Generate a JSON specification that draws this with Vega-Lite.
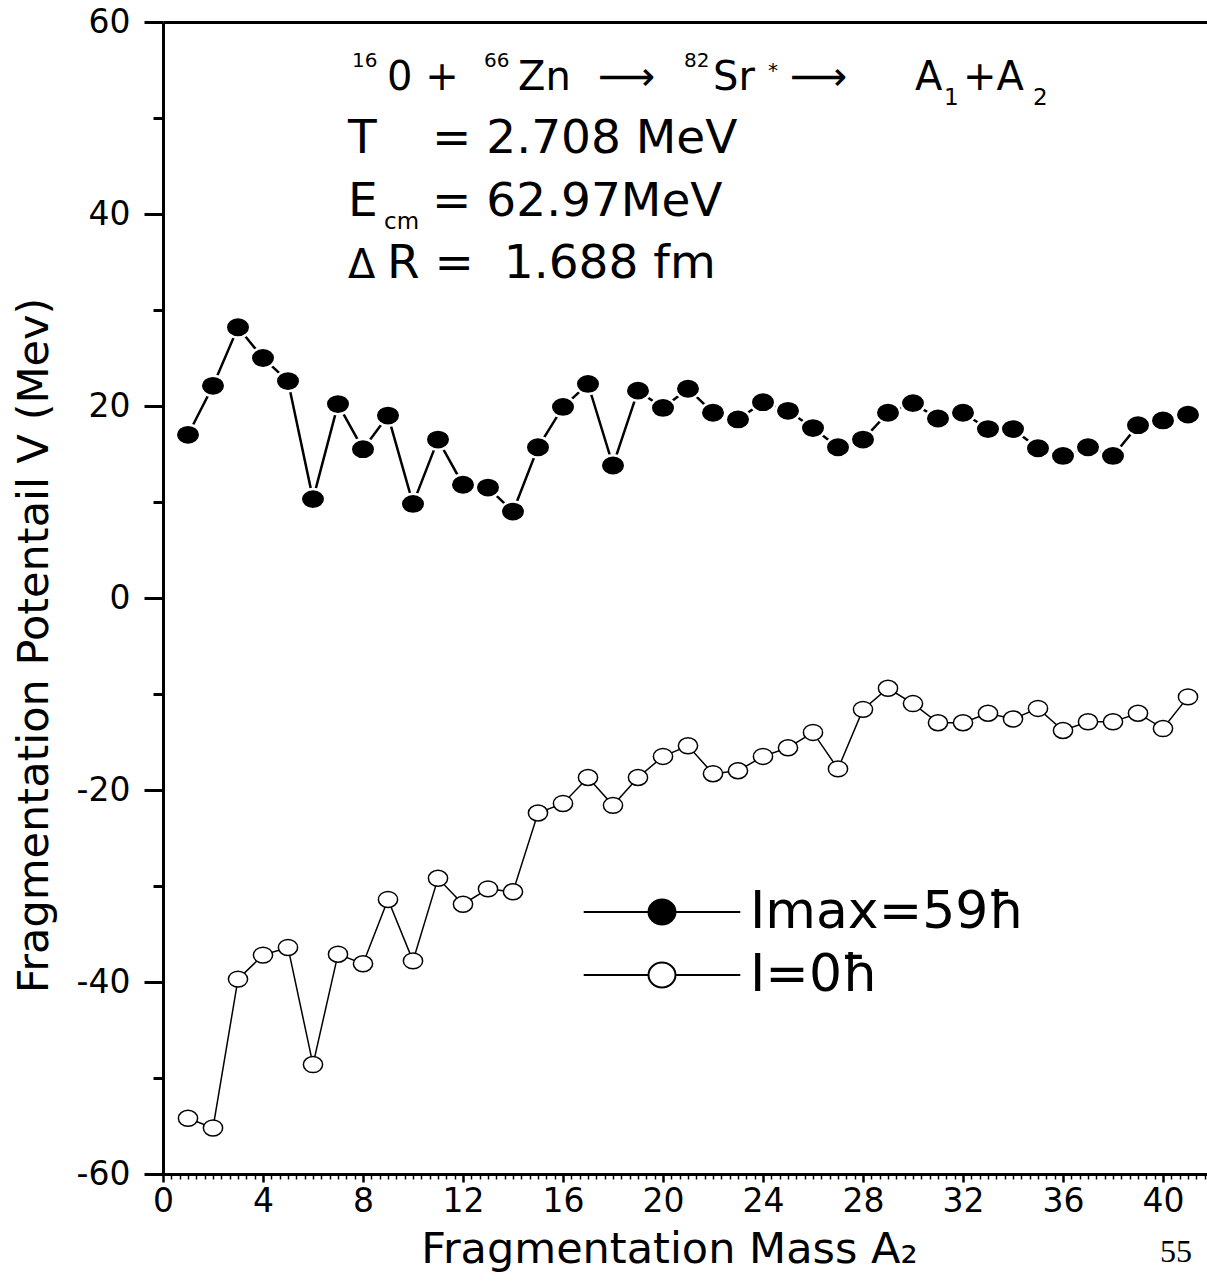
{
  "$schema": "https://vega.github.io/schema/vega-lite/v6.json",
  "width": 1044,
  "height": 1152,
  "autosize": {"type": "none"},
  "padding": {"left": 163, "top": 22, "right": 0, "bottom": 113},
  "background": "white",
  "config": {
    "view": {"stroke": null},
    "axis": {
      "domainColor": "black", "domainWidth": 3, "tickColor": "black",
      "labelColor": "black", "labelFont": "DejaVu Sans", "labelFontSize": 33,
      "titleColor": "black", "titleFont": "DejaVu Sans", "titleFontSize": 43, "titleFontWeight": "normal",
      "grid": false, "labelOverlap": false, "labelFlush": false, "labelBound": false
    }
  },
  "datasets": {
    "series": [
      {"A2": 1, "V": 17.0, "s": "Imax=59ħ"}, {"A2": 2, "V": 22.1, "s": "Imax=59ħ"}, {"A2": 3, "V": 28.2, "s": "Imax=59ħ"},
      {"A2": 4, "V": 25.0, "s": "Imax=59ħ"}, {"A2": 5, "V": 22.6, "s": "Imax=59ħ"}, {"A2": 6, "V": 10.3, "s": "Imax=59ħ"},
      {"A2": 7, "V": 20.2, "s": "Imax=59ħ"}, {"A2": 8, "V": 15.5, "s": "Imax=59ħ"}, {"A2": 9, "V": 19.0, "s": "Imax=59ħ"},
      {"A2": 10, "V": 9.8, "s": "Imax=59ħ"}, {"A2": 11, "V": 16.5, "s": "Imax=59ħ"}, {"A2": 12, "V": 11.8, "s": "Imax=59ħ"},
      {"A2": 13, "V": 11.5, "s": "Imax=59ħ"}, {"A2": 14, "V": 9.0, "s": "Imax=59ħ"}, {"A2": 15, "V": 15.7, "s": "Imax=59ħ"},
      {"A2": 16, "V": 19.9, "s": "Imax=59ħ"}, {"A2": 17, "V": 22.3, "s": "Imax=59ħ"}, {"A2": 18, "V": 13.8, "s": "Imax=59ħ"},
      {"A2": 19, "V": 21.6, "s": "Imax=59ħ"}, {"A2": 20, "V": 19.8, "s": "Imax=59ħ"}, {"A2": 21, "V": 21.8, "s": "Imax=59ħ"},
      {"A2": 22, "V": 19.3, "s": "Imax=59ħ"}, {"A2": 23, "V": 18.6, "s": "Imax=59ħ"}, {"A2": 24, "V": 20.4, "s": "Imax=59ħ"},
      {"A2": 25, "V": 19.5, "s": "Imax=59ħ"}, {"A2": 26, "V": 17.7, "s": "Imax=59ħ"}, {"A2": 27, "V": 15.7, "s": "Imax=59ħ"},
      {"A2": 28, "V": 16.5, "s": "Imax=59ħ"}, {"A2": 29, "V": 19.3, "s": "Imax=59ħ"}, {"A2": 30, "V": 20.3, "s": "Imax=59ħ"},
      {"A2": 31, "V": 18.7, "s": "Imax=59ħ"}, {"A2": 32, "V": 19.3, "s": "Imax=59ħ"}, {"A2": 33, "V": 17.6, "s": "Imax=59ħ"},
      {"A2": 34, "V": 17.6, "s": "Imax=59ħ"}, {"A2": 35, "V": 15.6, "s": "Imax=59ħ"}, {"A2": 36, "V": 14.8, "s": "Imax=59ħ"},
      {"A2": 37, "V": 15.7, "s": "Imax=59ħ"}, {"A2": 38, "V": 14.8, "s": "Imax=59ħ"}, {"A2": 39, "V": 18.0, "s": "Imax=59ħ"},
      {"A2": 40, "V": 18.5, "s": "Imax=59ħ"}, {"A2": 41, "V": 19.1, "s": "Imax=59ħ"},
      {"A2": 1, "V": -54.2, "s": "I=0ħ"}, {"A2": 2, "V": -55.2, "s": "I=0ħ"}, {"A2": 3, "V": -39.7, "s": "I=0ħ"},
      {"A2": 4, "V": -37.2, "s": "I=0ħ"}, {"A2": 5, "V": -36.4, "s": "I=0ħ"}, {"A2": 6, "V": -48.6, "s": "I=0ħ"},
      {"A2": 7, "V": -37.1, "s": "I=0ħ"}, {"A2": 8, "V": -38.1, "s": "I=0ħ"}, {"A2": 9, "V": -31.4, "s": "I=0ħ"},
      {"A2": 10, "V": -37.8, "s": "I=0ħ"}, {"A2": 11, "V": -29.2, "s": "I=0ħ"}, {"A2": 12, "V": -31.9, "s": "I=0ħ"},
      {"A2": 13, "V": -30.3, "s": "I=0ħ"}, {"A2": 14, "V": -30.6, "s": "I=0ħ"}, {"A2": 15, "V": -22.4, "s": "I=0ħ"},
      {"A2": 16, "V": -21.4, "s": "I=0ħ"}, {"A2": 17, "V": -18.7, "s": "I=0ħ"}, {"A2": 18, "V": -21.6, "s": "I=0ħ"},
      {"A2": 19, "V": -18.7, "s": "I=0ħ"}, {"A2": 20, "V": -16.5, "s": "I=0ħ"}, {"A2": 21, "V": -15.4, "s": "I=0ħ"},
      {"A2": 22, "V": -18.3, "s": "I=0ħ"}, {"A2": 23, "V": -18.0, "s": "I=0ħ"}, {"A2": 24, "V": -16.5, "s": "I=0ħ"},
      {"A2": 25, "V": -15.6, "s": "I=0ħ"}, {"A2": 26, "V": -14.0, "s": "I=0ħ"}, {"A2": 27, "V": -17.8, "s": "I=0ħ"},
      {"A2": 28, "V": -11.6, "s": "I=0ħ"}, {"A2": 29, "V": -9.4, "s": "I=0ħ"}, {"A2": 30, "V": -11.0, "s": "I=0ħ"},
      {"A2": 31, "V": -13.0, "s": "I=0ħ"}, {"A2": 32, "V": -13.0, "s": "I=0ħ"}, {"A2": 33, "V": -12.0, "s": "I=0ħ"},
      {"A2": 34, "V": -12.6, "s": "I=0ħ"}, {"A2": 35, "V": -11.5, "s": "I=0ħ"}, {"A2": 36, "V": -13.8, "s": "I=0ħ"},
      {"A2": 37, "V": -12.9, "s": "I=0ħ"}, {"A2": 38, "V": -12.9, "s": "I=0ħ"}, {"A2": 39, "V": -12.0, "s": "I=0ħ"},
      {"A2": 40, "V": -13.6, "s": "I=0ħ"}, {"A2": 41, "V": -10.3, "s": "I=0ħ"}
    ],
    "line1": [
      {"x": 8.96, "y": 52.92, "t": "0 +"},
      {"x": 14.2, "y": 52.92, "t": "Zn"},
      {"x": 17.4, "y": 52.92, "t": "⟶"},
      {"x": 22.0, "y": 52.92, "t": "Sr"},
      {"x": 25.08, "y": 52.92, "t": "⟶"},
      {"x": 30.08, "y": 52.92, "t": "A"},
      {"x": 32.0, "y": 52.92, "t": "+A"},
      {"x": 7.4, "y": 33.33, "t": "Δ"}
    ],
    "lines234": [
      {"x": 7.4, "y": 46.35, "t": "T"},
      {"x": 10.76, "y": 46.35, "t": "= 2.708 MeV"},
      {"x": 7.4, "y": 39.79, "t": "E"},
      {"x": 10.76, "y": 39.79, "t": "= 62.97MeV"},
      {"x": 8.96, "y": 33.33, "t": "R = \u00a01.688 fm"}
    ],
    "sups": [
      {"x": 7.56, "y": 55.31, "t": "16"},
      {"x": 12.84, "y": 55.31, "t": "66"},
      {"x": 20.84, "y": 55.31, "t": "82"},
      {"x": 24.2, "y": 54.3, "t": "*"}
    ],
    "subs": [
      {"x": 31.24, "y": 51.35, "t": "1"},
      {"x": 34.8, "y": 51.35, "t": "2"},
      {"x": 8.84, "y": 38.4, "t": "cm"}
    ],
    "page": [
      {"x": 39.88, "y": -69.17, "t": "55"}
    ]
  },
  "resolve": {"axis": {"x": "independent"}},
  "layer": [
    {
      "data": {"name": "series"},
      "mark": {"type": "line", "color": "black"},
      "encoding": {
        "x": {
          "field": "A2", "type": "quantitative",
          "scale": {"domain": [0, 41.76], "nice": false, "zero": false},
          "axis": {
            "orient": "bottom",
            "title": "Fragmentation Mass A₂",
            "titleX": 506, "titleY": 88, "titleBaseline": "alphabetic", "titleAlign": "center",
            "values": [0,0.3333,0.6667,1,1.3333,1.6667,2,2.3333,2.6667,3,3.3333,3.6667,4,4.3333,4.6667,5,5.3333,5.6667,6,6.3333,6.6667,7,7.3333,7.6667,8,8.3333,8.6667,9,9.3333,9.6667,10,10.3333,10.6667,11,11.3333,11.6667,12,12.3333,12.6667,13,13.3333,13.6667,14,14.3333,14.6667,15,15.3333,15.6667,16,16.3333,16.6667,17,17.3333,17.6667,18,18.3333,18.6667,19,19.3333,19.6667,20,20.3333,20.6667,21,21.3333,21.6667,22,22.3333,22.6667,23,23.3333,23.6667,24,24.3333,24.6667,25,25.3333,25.6667,26,26.3333,26.6667,27,27.3333,27.6667,28,28.3333,28.6667,29,29.3333,29.6667,30,30.3333,30.6667,31,31.3333,31.6667,32,32.3333,32.6667,33,33.3333,33.6667,34,34.3333,34.6667,35,35.3333,35.6667,36,36.3333,36.6667,37,37.3333,37.6667,38,38.3333,38.6667,39,39.3333,39.6667,40,40.3333,40.6667,41,41.3333,41.6667],
            "labelExpr": "datum.value % 4 === 0 ? '' + datum.value : ''",
            "tickSize": {"condition": {"test": "datum.value % 4 === 0", "value": 8}, "value": 5},
            "tickWidth": {"condition": {"test": "datum.value % 4 === 0", "value": 2.5}, "value": 1.5},
            "labelPadding": 3
          }
        },
        "y": {
          "field": "V", "type": "quantitative",
          "scale": {"domain": [-60, 60], "nice": false, "zero": false},
          "axis": {
            "title": "Fragmentation Potentail V (Mev)",
            "titleX": -116, "titleY": 623, "titleAngle": -90, "titleBaseline": "alphabetic", "titleAlign": "center",
            "values": [-60,-50,-40,-30,-20,-10,0,10,20,30,40,50,60],
            "labelExpr": "datum.value % 20 === 0 ? '' + datum.value : ''",
            "tickSize": {"condition": {"test": "datum.value % 20 === 0", "value": 19}, "value": 10},
            "tickWidth": 3,
            "labelPadding": 14
          }
        },
        "detail": {"field": "s", "type": "nominal"},
        "strokeWidth": {"condition": {"test": "datum.s === 'I=0ħ'", "value": 1.5}, "value": 2.5}
      }
    },
    {
      "data": {"name": "series"},
      "mark": {"type": "point", "filled": true, "opacity": 1, "shape": "M-1,0A1,0.83 0 1,1 1,0A1,0.83 0 1,1 -1,0Z"},
      "encoding": {
        "x": {"field": "A2", "type": "quantitative", "axis": null},
        "y": {"field": "V", "type": "quantitative"},
        "fill": {
          "field": "s", "type": "nominal",
          "scale": {"domain": ["Imax=59ħ", "I=0ħ"], "range": ["black", "white"]},
          "legend": {
            "title": null, "orient": "none", "legendX": 473, "legendY": 864,
            "symbolType": "M-5.8,0H-1M1,0H5.8M-1,0A1,0.92 0 1,1 1,0A1,0.92 0 1,1 -1,0Z",
            "symbolSize": 729, "symbolStrokeColor": "black", "symbolStrokeWidth": 2,
            "labelFont": "DejaVu Sans", "labelFontSize": 52, "labelColor": "black", "labelLimit": 0,
            "labelOffset": 62, "rowPadding": 11, "padding": 0,
            "encode": {"symbols": {"update": {
              "stroke": {"value": "black"},
              "strokeWidth": {"signal": "datum.index === 0 ? 2.8 : 1.5"},
              "opacity": {"value": 1}
            }}}
          }
        },
        "stroke": {"condition": {"test": "datum.s === 'I=0ħ'", "value": "black"}, "value": "white"},
        "strokeWidth": {"condition": {"test": "datum.s === 'I=0ħ'", "value": 1.5}, "value": 2.5},
        "size": {"condition": {"test": "datum.s === 'I=0ħ'", "value": 370}, "value": 600}
      }
    },
    {
      "data": {"name": "line1"},
      "mark": {"type": "text", "align": "left", "baseline": "alphabetic", "font": "DejaVu Sans", "fontSize": 40, "color": "black"},
      "encoding": {
        "x": {"field": "x", "type": "quantitative", "axis": null},
        "y": {"field": "y", "type": "quantitative"},
        "text": {"field": "t"}
      }
    },
    {
      "data": {"name": "lines234"},
      "mark": {"type": "text", "align": "left", "baseline": "alphabetic", "font": "DejaVu Sans", "fontSize": 47, "color": "black"},
      "encoding": {
        "x": {"field": "x", "type": "quantitative", "axis": {"orient": "top", "title": null, "labels": false, "ticks": false, "domain": true}},
        "y": {"field": "y", "type": "quantitative"},
        "text": {"field": "t"}
      }
    },
    {
      "data": {"name": "sups"},
      "mark": {"type": "text", "align": "left", "baseline": "alphabetic", "font": "DejaVu Sans", "fontSize": 20, "color": "black"},
      "encoding": {
        "x": {"field": "x", "type": "quantitative", "axis": null},
        "y": {"field": "y", "type": "quantitative"},
        "text": {"field": "t"}
      }
    },
    {
      "data": {"name": "subs"},
      "mark": {"type": "text", "align": "left", "baseline": "alphabetic", "font": "DejaVu Sans", "fontSize": 23, "color": "black"},
      "encoding": {
        "x": {"field": "x", "type": "quantitative", "axis": null},
        "y": {"field": "y", "type": "quantitative"},
        "text": {"field": "t"}
      }
    },
    {
      "data": {"name": "page"},
      "mark": {"type": "text", "align": "left", "baseline": "alphabetic", "font": "Liberation Serif, DejaVu Serif, serif", "fontSize": 32, "color": "black"},
      "encoding": {
        "x": {"field": "x", "type": "quantitative", "axis": null},
        "y": {"field": "y", "type": "quantitative"},
        "text": {"field": "t"}
      }
    }
  ]
}
